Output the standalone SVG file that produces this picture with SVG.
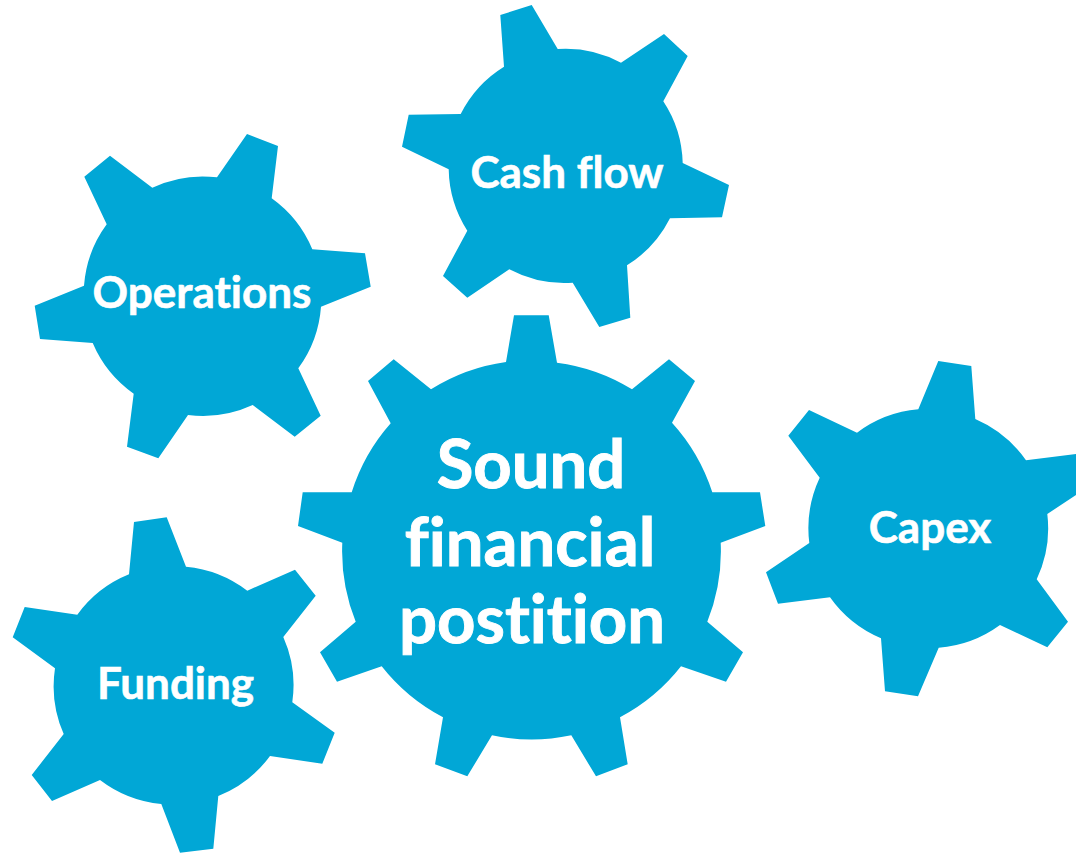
<svg xmlns="http://www.w3.org/2000/svg" width="1076" height="853" viewBox="0 0 1076 853">
<style>
.g{fill:#01a7d6}
text{font-family:"Lato","Open Sans",sans-serif;font-weight:700;fill:#fff;stroke:#fff;stroke-width:.6;text-anchor:middle;font-variant-ligatures:none}
.s{font-size:44px}
.b{font-size:67px;stroke-width:.9}
</style>
<rect width="1076" height="853" fill="#fff"/>
<g id="cashflow"><path class="g" d="M500.3 15L531.7 5L557.7 49A117.5 117.5 0 0 1 621 62.7L664 34L687.7 56L663.3 101.3A117.5 117.5 0 0 1 682.7 163L729 185L722 217.3L670 218.3A117.5 117.5 0 0 1 627 265.3L630.3 317.7L599.3 327L572.7 282.7A117.5 117.5 0 0 1 509.3 269.3L467.3 297.7L443 276L467.3 230.7A117.5 117.5 0 0 1 448.7 169.3L402 146.7L408.7 114.7L460.7 114A117.5 117.5 0 0 1 504 66.7Z"/><text class="s" x="567" y="188">Cash flow</text></g>
<g id="operations"><path class="g" d="M84.3 176.7L110 155.7L152.3 187.7A119 119 0 0 1 217 177.3L247 134L278 146L271.7 198.3A119 119 0 0 1 312.3 249.3L365 253.3L370.7 286.7L321 306.7A119 119 0 0 1 298.3 368.3L320.7 415.7L294.7 436.7L252.7 405A119 119 0 0 1 188 415L158.3 458.3L127 446.7L133.7 393.7A119 119 0 0 1 92.7 343L40 339L34.7 305.7L84 285.7A119 119 0 0 1 106.7 224.3Z"/><text class="s" x="202" y="308">Operations</text></g>
<g id="sound"><path class="g" d="M514 315.3L548.7 315.3L557 362.7A190 190 0 0 1 632 389.3L669 359.3L695 381L672 422.7A190 190 0 0 1 712.3 492.3L760 492.3L765.3 526L720.7 542.7A190 190 0 0 1 707.3 621.7L743 652.3L726 681.7L681 666.3A190 190 0 0 1 620 717.3L627.7 764.3L596 776.3L571.3 735.3A190 190 0 0 1 492 735.3L467.3 776.3L435 764.3L443 717.3A190 190 0 0 1 381.7 666.3L337 681.7L320 652.3L355.7 621.7A190 190 0 0 1 342.3 542.7L298 526L302.7 492.3L351.7 492.3A190 190 0 0 1 390.7 423.3L368 381L393.7 359.3L431 389.3A190 190 0 0 1 506 362Z"/><text class="b" x="531" y="488">Sound</text><text class="b" x="530" y="566">financial</text><text class="b" x="532" y="643">postition</text></g>
<g id="capex"><path class="g" d="M938.3 361L971.3 366L975.3 419A119.5 119.5 0 0 1 1026 460.3L1076 454L1076 495L1047.3 514A119.5 119.5 0 0 1 1036.7 579.3L1068 621.7L1047.3 647.3L1000 625A119.5 119.5 0 0 1 938.7 647.7L918 696.3L885 691.3L881 638.3A119.5 119.5 0 0 1 830 597.3L778 603.7L766 572.3L809.3 543A119.5 119.5 0 0 1 819.7 477.7L788.3 435.7L809 410L857 432.7A119.5 119.5 0 0 1 918.3 409.3Z"/><text class="s" x="930" y="543">Capex</text></g>
<g id="funding"><path class="g" d="M134 522L166.7 517.3L186 566.7A119 119 0 0 1 247.3 590.7L295 569.7L315.7 595.7L283.3 637A119 119 0 0 1 292.3 702.3L334.7 732.7L322.3 763.7L270 756A119 119 0 0 1 218.3 796L213.3 848.7L180 852.7L161.3 804A119 119 0 0 1 100 780L52 801L31.7 775L63.7 734A119 119 0 0 1 55 668.3L12.7 637.3L24.7 607L77.3 614.7A119 119 0 0 1 129 574.3Z"/><text class="s" x="175.500" y="699">Funding</text></g>
</svg>
